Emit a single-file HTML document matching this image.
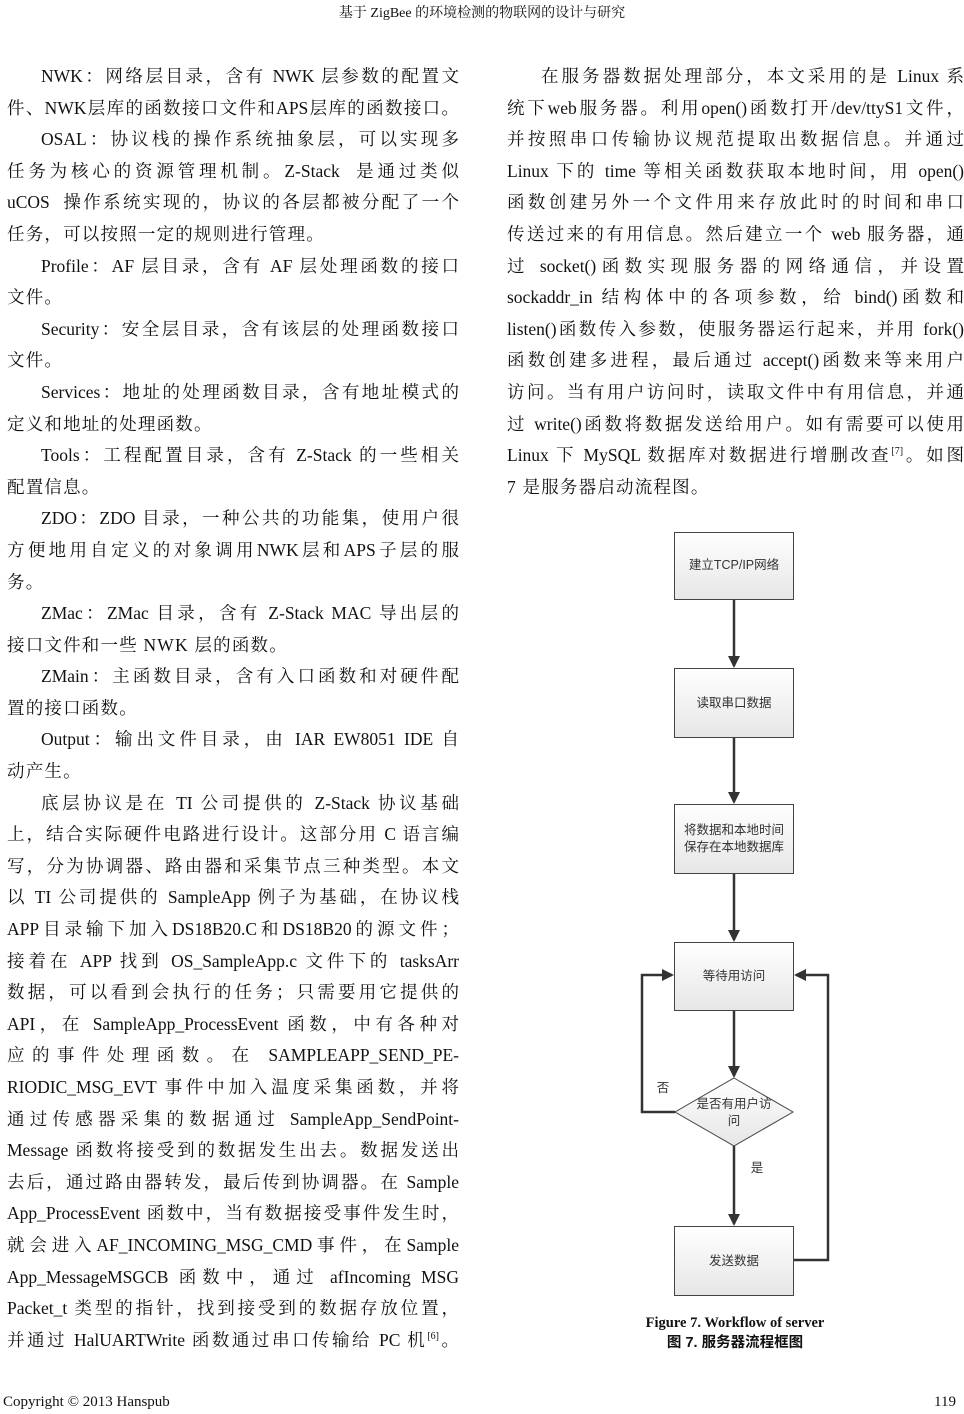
<!DOCTYPE html>
<html><head><meta charset="utf-8"><style>
body{margin:0;width:964px;height:1414px;background:#fff;position:relative;overflow:hidden;font-family:"Liberation Serif","Noto Serif CJK SC",serif;color:#111}
.hd{position:absolute;top:2px;left:0;width:964px;text-align:center;font-size:14px}
.col{position:absolute;top:61px;font-size:17.5px;line-height:31.6px;letter-spacing:1.2px}
.col div{white-space:nowrap;height:31.6px}
.j{text-align:justify;text-align-last:justify;letter-spacing:0}
.i{padding-left:34px}
.ft{position:absolute;top:1394px;font-size:15px}
sup{font-size:10px;line-height:0}
.cap{position:absolute;left:560px;width:350px;text-align:center;font-weight:bold;font-size:14.5px;line-height:19px}
</style></head><body>
<div class="hd">基于 ZigBee 的环境检测的物联网的设计与研究</div>
<div class="col" style="left:7px;width:452px">
<div class="j i">NWK：网络层目录，含有 NWK 层参数的配置文</div>
<div class="j">件、NWK层库的函数接口文件和APS层库的函数接口。</div>
<div class="j i">OSAL：协议栈的操作系统抽象层，可以实现多</div>
<div class="j">任务为核心的资源管理机制。Z-Stack&nbsp; 是通过类似</div>
<div class="j">uCOS&nbsp; 操作系统实现的，协议的各层都被分配了一个</div>
<div>任务，可以按照一定的规则进行管理。</div>
<div class="j i">Profile：AF 层目录，含有 AF 层处理函数的接口</div>
<div>文件。</div>
<div class="j i">Security：安全层目录，含有该层的处理函数接口</div>
<div>文件。</div>
<div class="j i">Services：地址的处理函数目录，含有地址模式的</div>
<div>定义和地址的处理函数。</div>
<div class="j i">Tools：工程配置目录，含有 Z-Stack 的一些相关</div>
<div>配置信息。</div>
<div class="j i">ZDO：ZDO 目录，一种公共的功能集，使用户很</div>
<div class="j">方便地用自定义的对象调用NWK层和APS子层的服</div>
<div>务。</div>
<div class="j i">ZMac：ZMac 目录，含有 Z-Stack MAC 导出层的</div>
<div>接口文件和一些 NWK 层的函数。</div>
<div class="j i">ZMain：主函数目录，含有入口函数和对硬件配</div>
<div>置的接口函数。</div>
<div class="j i">Output：输出文件目录，由 IAR EW8051 IDE 自</div>
<div>动产生。</div>
<div class="j i">底层协议是在 TI 公司提供的 Z-Stack 协议基础</div>
<div class="j">上，结合实际硬件电路进行设计。这部分用 C 语言编</div>
<div class="j">写，分为协调器、路由器和采集节点三种类型。本文</div>
<div class="j">以 TI 公司提供的 SampleApp 例子为基础，在协议栈</div>
<div class="j">APP目录输下加入DS18B20.C和DS18B20的源文件；</div>
<div class="j">接着在 APP 找到 OS_SampleApp.c 文件下的 tasksArr</div>
<div class="j">数据，可以看到会执行的任务；只需要用它提供的</div>
<div class="j">API，在 SampleApp_ProcessEvent 函数，中有各种对</div>
<div class="j">应的事件处理函数。在 SAMPLEAPP_SEND_PE-</div>
<div class="j">RIODIC_MSG_EVT 事件中加入温度采集函数，并将</div>
<div class="j">通过传感器采集的数据通过 SampleApp_SendPoint-</div>
<div class="j">Message 函数将接受到的数据发生出去。数据发送出</div>
<div class="j">去后，通过路由器转发，最后传到协调器。在 Sample</div>
<div class="j">App_ProcessEvent 函数中，当有数据接受事件发生时，</div>
<div class="j">就会进入AF_INCOMING_MSG_CMD事件，在Sample</div>
<div class="j">App_MessageMSGCB 函数中，通过 afIncoming MSG</div>
<div class="j">Packet_t 类型的指针，找到接受到的数据存放位置，</div>
<div class="j">并通过 HalUARTWrite 函数通过串口传输给 PC 机<sup>[6]</sup>。</div>
</div>
<div class="col" style="left:507px;width:457px">
<div class="j i">在服务器数据处理部分，本文采用的是 Linux 系</div>
<div class="j">统下web服务器。利用open()函数打开/dev/ttyS1文件，</div>
<div class="j">并按照串口传输协议规范提取出数据信息。并通过</div>
<div class="j">Linux 下的 time 等相关函数获取本地时间，用 open()</div>
<div class="j">函数创建另外一个文件用来存放此时的时间和串口</div>
<div class="j">传送过来的有用信息。然后建立一个 web 服务器，通</div>
<div class="j">过 socket()函数实现服务器的网络通信，并设置</div>
<div class="j">sockaddr_in 结构体中的各项参数，给 bind()函数和</div>
<div class="j">listen()函数传入参数，使服务器运行起来，并用 fork()</div>
<div class="j">函数创建多进程，最后通过 accept()函数来等来用户</div>
<div class="j">访问。当有用户访问时，读取文件中有用信息，并通</div>
<div class="j">过 write()函数将数据发送给用户。如有需要可以使用</div>
<div class="j">Linux 下 MySQL 数据库对数据进行增删改查<sup>[7]</sup>。如图</div>
<div>7 是服务器启动流程图。</div>
</div>
<svg style="position:absolute;left:0;top:0" width="964" height="1414" font-family="'Liberation Sans','Noto Sans CJK SC',sans-serif" font-size="12.5" fill="#333">
<defs><linearGradient id="g" x1="0" y1="0" x2="0" y2="1"><stop offset="0" stop-color="#ffffff"/><stop offset="1" stop-color="#e6e6e6"/></linearGradient>
<marker id="a" markerWidth="12" markerHeight="12" refX="10" refY="6" orient="auto" markerUnits="userSpaceOnUse" viewBox="0 0 12 12"><path d="M0,0L12,6L0,12z" fill="#333"/></marker></defs>
<g stroke="#444" stroke-width="1" fill="url(#g)">
<rect x="674.5" y="532.5" width="119" height="67"/>
<rect x="674.5" y="668.5" width="119" height="69"/>
<rect x="674.5" y="804.5" width="119" height="69"/>
<rect x="674.5" y="942.5" width="119" height="68"/>
<polygon points="734,1078 793,1112 734,1146 675,1112"/>
<rect x="674.5" y="1226.5" width="119" height="69"/>
</g>
<g stroke="#333" stroke-width="2.5" fill="none">
<line x1="734" y1="600" x2="734" y2="666" marker-end="url(#a)"/>
<line x1="734" y1="738" x2="734" y2="802" marker-end="url(#a)"/>
<line x1="734" y1="874" x2="734" y2="940" marker-end="url(#a)"/>
<line x1="734" y1="1011" x2="734" y2="1076" marker-end="url(#a)"/>
<line x1="734" y1="1146" x2="734" y2="1224" marker-end="url(#a)"/>
<polyline points="675,1112 642,1112 642,975 672,975" marker-end="url(#a)"/>
<polyline points="794,1260 828,1260 828,975 796,975" marker-end="url(#a)"/>
</g>
<text x="734" y="569" text-anchor="middle">建立TCP/IP网络</text>
<text x="734" y="707" text-anchor="middle">读取串口数据</text>
<text x="734" y="834" text-anchor="middle">将数据和本地时间</text>
<text x="734" y="851" text-anchor="middle">保存在本地数据库</text>
<text x="734" y="980" text-anchor="middle">等待用访问</text>
<text x="734" y="1108" text-anchor="middle">是否有用户访</text>
<text x="734" y="1125" text-anchor="middle">问</text>
<text x="663" y="1092" text-anchor="middle">否</text>
<text x="757" y="1172" text-anchor="middle">是</text>
<text x="734" y="1265" text-anchor="middle">发送数据</text>
</svg>
<div class="cap" style="top:1314px;font-family:'Liberation Serif',serif">Figure 7. Workflow of server</div>
<div class="cap" style="top:1334px;font-family:'Liberation Sans','Noto Sans CJK SC',sans-serif">图 7. 服务器流程框图</div>
<div class="ft" style="left:3px">Copyright © 2013 Hanspub</div>
<div class="ft" style="right:8px">119</div>
</body></html>
